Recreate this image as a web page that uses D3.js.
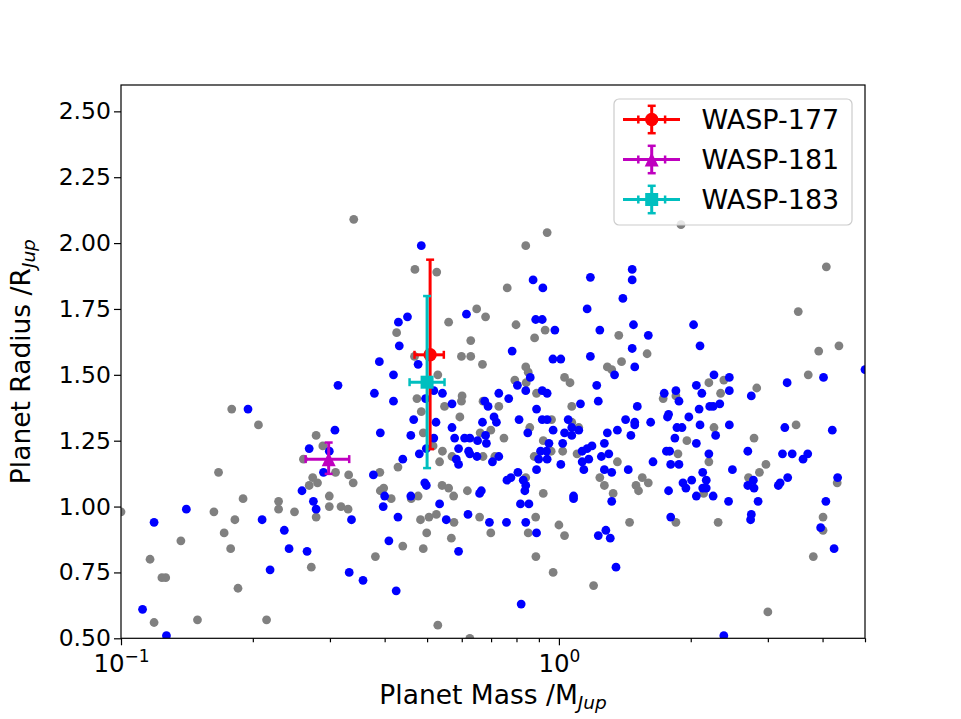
<!DOCTYPE html>
<html lang="en">
<head>
<meta charset="UTF-8">
<script src="https://cdn.jsdelivr.net/npm/d3@7"></script>
<title>Planet mass vs radius</title>
<style>
  body { margin: 0; background: #fff; }
  text { font-family: "DejaVu Sans", sans-serif; fill: #000; }
</style>
</head>
<body>
<div id="chart"></div>
<script>
// known planets, not confirmed by this work (grey)
var grayMass = [0.340,0.840,0.940,0.469,0.526,0.762,0.649,0.680,0.426,0.560,0.629,0.798,0.930,0.880,1.37,0.599,0.629,0.468,0.669,0.840,
  0.851,1.29,1.32,1.39,1.90,4.08,3.52,1.59,3.92,4.36,2.20,2.38,2.34,1.73,1.85,3.71,2.83,2.26,1.96,3.48,
  2.79,1.87,2.20,1.36,2.97,2.87,2.71,4.32,2.14,1.55,1.60,1.50,1.52,4.01,4.01,3.81,1.85,2.31,1.45,3.00,
  0.529,0.474,0.485,0.548,0.601,0.599,0.594,0.490,0.516,0.429,0.390,0.542,0.534,0.570,0.661,0.699,0.671,0.714,0.749,0.671,
  0.729,0.793,0.842,0.889,1.03,1.06,1.07,0.858,0.962,1.07,1.11,0.921,0.960,0.878,1.02,1.10,1.24,1.27,1.33,0.840,
  0.921,0.885,0.851,1.00,1.03,0.970,0.886,1.20,0.529,0.626,0.381,0.440,0.490,0.499,0.568,0.483,0.505,0.525,0.576,0.659,
  0.699,0.460,0.477,0.391,0.398,0.414,0.541,0.560,0.575,0.618,0.179,0.206,0.279,0.289,0.261,0.309,0.331,0.339,0.274,0.281,
  0.269,0.167,0.190,0.229,0.229,0.299,0.299,0.318,0.330,0.279,0.249,0.163,0.182,0.100,0.172,0.137,0.178,0.272,0.1165,0.124,
  0.1265,0.185,0.119,0.1495,0.215];
var grayRadius = [2.09,1.99,2.04,1.90,1.89,1.83,1.75,1.72,1.66,1.70,1.63,1.69,1.67,1.64,1.65,1.57,1.57,1.57,1.54,1.53,
  1.51,1.53,1.52,1.55,2.07,1.91,1.74,1.58,1.59,1.61,1.47,1.48,1.43,1.41,1.42,1.50,1.45,1.30,1.25,1.31,
  1.26,1.20,1.17,1.17,1.16,1.13,1.11,1.09,1.05,1.11,1.09,1.08,1.06,0.96,0.91,0.81,0.94,0.94,0.94,0.60,
  1.50,1.41,1.36,1.38,1.42,1.40,1.34,1.28,1.23,1.15,1.13,1.21,1.17,1.19,1.28,1.29,1.19,1.19,1.26,1.40,
  1.38,1.48,1.47,1.43,1.49,1.47,1.38,1.30,1.33,1.32,1.30,1.25,1.21,1.19,1.21,1.20,1.11,1.08,1.05,1.11,
  1.05,0.96,0.90,0.93,0.89,0.75,0.81,0.70,0.55,0.50,0.81,0.85,0.84,0.90,0.88,0.95,0.96,0.97,0.94,0.96,
  0.90,1.03,1.04,1.06,1.07,1.03,1.08,1.07,1.04,1.06,1.37,1.31,1.27,1.23,1.18,1.13,1.12,1.09,1.11,1.09,
  1.08,1.13,1.03,1.02,0.99,1.04,1.00,1.00,0.99,0.96,0.98,0.98,0.95,0.98,0.90,0.87,0.84,0.77,0.80,0.73,
  0.73,0.69,0.56,0.57,0.57];

// WASP planets (blue)
var blueMass = [0.485,0.873,0.919,1.18,1.16,1.40,0.615,0.451,0.430,0.432,0.885,0.916,0.979,1.24,0.782,0.389,0.477,0.969,1.01,1.18,
  1.47,1.47,1.48,1.60,2.03,2.10,1.47,1.49,1.34,2.26,2.45,2.45,2.12,2.06,1.85,1.74,1.88,4.02,3.32,2.75,
  2.33,2.21,2.25,2.09,1.51,1.36,1.42,1.49,1.49,1.46,1.62,1.78,1.77,1.98,2.10,1.86,1.91,2.45,2.28,1.84,
  2.06,3.28,4.21,1.76,1.79,2.20,1.64,1.80,1.88,1.44,2.49,2.70,3.24,3.41,3.70,3.61,2.78,2.70,2.79,3.33,
  3.20,3.17,4.33,2.13,2.17,2.01,1.92,1.95,2.13,2.17,2.06,2.25,1.78,2.44,2.85,4.07,3.96,4.25,2.75,2.74,
  1.80,1.35,2.38,5.00,0.419,0.379,0.419,0.496,0.518,0.542,0.570,0.466,0.524,0.570,0.391,0.459,0.518,0.480,0.498,0.440,
  0.377,0.578,0.609,0.626,0.590,0.583,0.590,0.622,0.626,0.652,0.680,0.683,0.650,0.705,0.729,0.669,0.677,0.689,0.711,0.720,
  0.729,0.768,0.804,0.840,0.860,0.916,0.940,0.889,1.12,1.22,1.23,0.811,0.849,0.916,0.940,0.970,1.05,1.03,1.07,1.11,
  1.07,1.29,0.949,1.02,0.908,0.937,0.899,0.940,1.01,0.889,1.13,1.16,1.19,1.27,1.13,1.17,1.14,1.25,1.30,1.27,
  1.32,1.32,0.761,0.777,0.806,0.829,0.840,0.836,1.08,1.08,0.817,0.854,0.840,0.889,1.23,1.28,1.31,0.820,0.425,0.357,
  0.409,0.590,0.429,0.553,0.620,0.694,0.759,0.534,0.459,0.400,0.397,0.494,0.498,0.659,0.665,0.313,0.195,0.308,0.269,0.299,
  0.290,0.259,0.275,0.279,0.336,0.210,0.141,0.119,0.236,0.242,0.266,0.219,0.332,0.112,0.127];
var blueRadius = [1.99,1.86,1.83,1.87,1.75,1.79,1.73,1.72,1.70,1.61,1.71,1.71,1.67,1.67,1.59,1.55,1.54,1.56,1.56,1.57,
  1.90,1.86,1.69,1.65,1.69,1.61,1.60,1.53,1.50,1.50,1.49,1.44,1.43,1.46,1.44,1.43,1.40,1.49,1.47,1.42,
  1.39,1.38,1.38,1.37,1.38,1.29,1.33,1.32,1.31,1.27,1.32,1.35,1.34,1.34,1.31,1.30,1.30,1.31,1.27,1.26,
  1.24,1.30,1.29,1.21,1.21,1.20,1.17,1.16,1.16,1.14,1.14,1.21,1.20,1.20,1.20,1.18,1.10,1.08,1.07,1.11,
  1.09,1.08,1.11,1.13,1.10,1.10,1.09,1.07,1.07,1.07,1.04,1.04,1.06,1.02,1.02,1.02,0.92,0.84,0.97,0.95,
  0.96,0.77,0.51,1.52,1.50,1.43,1.40,1.41,1.44,1.43,1.39,1.33,1.32,1.30,1.28,1.27,1.26,1.20,1.22,1.18,
  1.12,1.26,1.26,1.26,1.22,1.18,1.16,1.21,1.20,1.25,1.27,1.24,1.19,1.17,1.19,1.32,1.40,1.38,1.34,1.32,
  1.43,1.41,1.46,1.44,1.49,1.44,1.43,1.37,1.39,1.46,1.40,1.33,1.28,1.33,1.33,1.29,1.33,1.28,1.30,1.29,
  1.27,1.28,1.24,1.24,1.21,1.21,1.18,1.18,1.16,1.14,1.21,1.22,1.23,1.24,1.17,1.18,1.14,1.19,1.20,1.14,
  1.13,1.02,1.10,1.11,1.13,1.10,1.08,1.06,1.04,1.03,1.01,1.01,0.94,0.90,0.89,0.91,0.88,0.63,0.68,0.72,
  0.87,0.83,0.96,0.95,0.97,0.94,0.94,1.01,1.04,1.04,1.00,1.09,1.08,1.05,1.06,1.46,1.37,1.29,1.22,1.21,
  1.13,1.06,1.02,0.99,0.95,0.95,0.99,0.94,0.91,0.84,0.83,0.76,0.75,0.61,0.51];

// the three new planets with error bars
var planetNames = ["WASP-177", "WASP-181", "WASP-183"];
var planetMass = [0.508, 0.298, 0.500];
var planetMassLo = [0.040, 0.034, 0.044];
var planetMassHi = [0.038, 0.034, 0.048];
var planetRadius = [1.576, 1.180, 1.472];
var planetRadiusLo = [0.358, 0.056, 0.326];
var planetRadiusHi = [0.361, 0.063, 0.327];

var xMajor = [0.1, 1];
var xMajorExp = ["\u22121", "0"];
var xMinor = [0.2, 0.3, 0.4, 0.5, 0.6, 0.7, 0.8, 0.9, 2, 3, 4, 5];
var yTicks = [0.5, 0.75, 1.0, 1.25, 1.5, 1.75, 2.0, 2.25, 2.5];

var style = {
    "WASP-177": { color: "#ff0000", marker: "circle" },
    "WASP-181": { color: "#bf00bf", marker: "triangle" },
    "WASP-183": { color: "#00bfbf", marker: "square" }
};

var width = 961, height = 719;
var pLeft = 121, pRight = 865, pTop = 85, pBottom = 638.3;

var svg = d3.select("#chart").append("svg")
    .attr("width", width)
    .attr("height", height);

svg.append("rect").attr("width", width).attr("height", height).attr("fill", "#fff");

var x = d3.scaleLog().domain([0.1, 5]).range([pLeft, pRight]);
var y = d3.scaleLinear().domain([0.5, 2.6]).range([pBottom, pTop]);

var plot = svg.append("g");
plot.append("defs").append("clipPath").attr("id", "clip")
    .append("rect").attr("x", pLeft).attr("y", pTop)
    .attr("width", pRight - pLeft).attr("height", pBottom - pTop);

var dots = plot.append("g").attr("clip-path", "url(#clip)");

dots.selectAll(".grey").data(d3.range(grayMass.length)).enter()
    .append("circle").attr("class", "grey")
    .attr("cx", function (i) { return x(grayMass[i]); })
    .attr("cy", function (i) { return y(grayRadius[i]); })
    .attr("r", 4.4)
    .attr("fill", "#808080");

dots.selectAll(".blue").data(d3.range(blueMass.length)).enter()
    .append("circle").attr("class", "blue")
    .attr("cx", function (i) { return x(blueMass[i]); })
    .attr("cy", function (i) { return y(blueRadius[i]); })
    .attr("r", 4.4)
    .attr("fill", "#0000ff");

// marker shapes like matplotlib 'o', '^', 's'
function marker(g, kind, cx, cy, color) {
    if (kind === "circle") {
        g.append("circle").attr("cx", cx).attr("cy", cy).attr("r", 6.7).attr("fill", color);
    } else if (kind === "triangle") {
        var s = 7;
        g.append("path")
            .attr("d", "M" + cx + "," + (cy - s) + "L" + (cx - s) + "," + (cy + s) + "L" + (cx + s) + "," + (cy + s) + "Z")
            .attr("fill", color);
    } else {
        g.append("rect").attr("x", cx - 6.5).attr("y", cy - 6.5)
            .attr("width", 13).attr("height", 13).attr("fill", color);
    }
}

function line(g, x1, y1, x2, y2, color, w) {
    g.append("line").attr("x1", x1).attr("y1", y1).attr("x2", x2).attr("y2", y2)
        .attr("stroke", color).attr("stroke-width", w);
}

var errs = plot.append("g");
planetNames.forEach(function (name, i) {
    var c = style[name].color;
    var g = errs.append("g");
    var cx = x(planetMass[i]), cy = y(planetRadius[i]);
    var x0 = x(planetMass[i] - planetMassLo[i]), x1 = x(planetMass[i] + planetMassHi[i]);
    var y0 = y(planetRadius[i] - planetRadiusLo[i]), y1 = y(planetRadius[i] + planetRadiusHi[i]);
    line(g, cx, y0, cx, y1, c, 3);
    line(g, x0, cy, x1, cy, c, 3);
    line(g, cx - 4, y0, cx + 4, y0, c, 2.5);
    line(g, cx - 4, y1, cx + 4, y1, c, 2.5);
    line(g, x0, cy - 4, x0, cy + 4, c, 2.5);
    line(g, x1, cy - 4, x1, cy + 4, c, 2.5);
    marker(g, style[name].marker, cx, cy, c);
});

// axes
svg.append("g").attr("transform", "translate(0," + pBottom + ")")
    .call(d3.axisBottom(x).tickValues(xMinor).tickSize(4).tickFormat(""));
var xMajorAxis = svg.append("g").attr("transform", "translate(0," + pBottom + ")")
    .call(d3.axisBottom(x).tickValues(xMajor).tickSize(7).tickFormat(""));
xMajorAxis.selectAll(".tick").each(function (d, i) {
    var t = d3.select(this).append("text")
        .attr("y", 33.5)
        .attr("text-anchor", "middle")
        .attr("fill", "#000")
        .style("font-size", "24.5px");
    t.append("tspan").text("10");
    t.append("tspan").attr("dy", -10).style("font-size", "17px").text(xMajorExp[i]);
});

var yAxis = svg.append("g").attr("transform", "translate(" + pLeft + ",0)")
    .call(d3.axisLeft(y).tickValues(yTicks).tickSize(7).tickPadding(3).tickFormat(d3.format(".2f")));
yAxis.selectAll("text").attr("fill", "#000").style("font-size", "23.5px").style("font-family", "DejaVu Sans");

svg.selectAll(".domain").remove();
svg.selectAll(".tick line").attr("stroke", "#000").attr("stroke-width", 1.2);

svg.append("rect")
    .attr("x", pLeft).attr("y", pTop)
    .attr("width", pRight - pLeft).attr("height", pBottom - pTop)
    .attr("fill", "none").attr("stroke", "#000").attr("stroke-width", 1.2);

// axis titles
var xt = svg.append("text")
    .attr("x", (pLeft + pRight) / 2).attr("y", 704)
    .attr("text-anchor", "middle").style("font-size", "26.5px");
xt.append("tspan").text("Planet Mass /M");
xt.append("tspan").attr("dy", 5).style("font-size", "18.5px").style("font-style", "italic").text("Jup");

var yt = svg.append("text")
    .attr("transform", "translate(30," + (pTop + pBottom) / 2 + ") rotate(-90)")
    .attr("text-anchor", "middle").style("font-size", "26.5px");
yt.append("tspan").text("Planet Radius /R");
yt.append("tspan").attr("dy", 5).style("font-size", "18.5px").style("font-style", "italic").text("Jup");

// legend
var leg = svg.append("g");
leg.append("rect")
    .attr("x", 614).attr("y", 99).attr("width", 238).attr("height", 126).attr("rx", 5)
    .attr("fill", "#fff").attr("fill-opacity", 0.8)
    .attr("stroke", "#cccccc").attr("stroke-width", 1.2);

planetNames.forEach(function (name, i) {
    var c = style[name].color;
    var ry = 119.5 + i * 40;
    var cx = 651.7;
    var g = leg.append("g");
    line(g, 623, ry, 680, ry, c, 3);
    line(g, cx, ry - 13.7, cx, ry + 13.7, c, 3);
    line(g, cx - 4, ry - 13.7, cx + 4, ry - 13.7, c, 2.5);
    line(g, cx - 4, ry + 13.7, cx + 4, ry + 13.7, c, 2.5);
    line(g, cx - 13.4, ry - 4, cx - 13.4, ry + 4, c, 2.5);
    line(g, cx + 13.4, ry - 4, cx + 13.4, ry + 4, c, 2.5);
    marker(g, style[name].marker, cx, ry, c);
    g.append("text").attr("x", 701.5).attr("y", ry).attr("dy", "0.36em")
        .style("font-size", "27px").text(name);
});
</script>
</body>
</html>
